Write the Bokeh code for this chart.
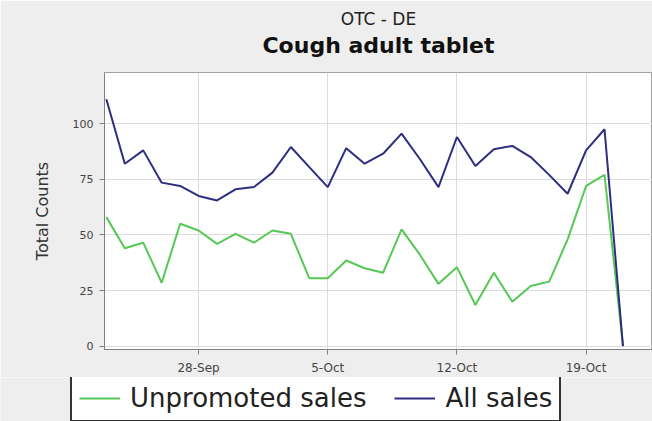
import pandas as pd
from bokeh.plotting import figure
from bokeh.layouts import column
from bokeh.models import (ColumnDataSource, FixedTicker, Legend, LegendItem,
                          Title, Range1d)
from bokeh.embed import file_html
from bokeh.resources import INLINE

# ---- data ----
dates = ["2008-09-23", "2008-09-24", "2008-09-25", "2008-09-26", "2008-09-27",
         "2008-09-28", "2008-09-29", "2008-09-30", "2008-10-01", "2008-10-02",
         "2008-10-03", "2008-10-04", "2008-10-05", "2008-10-06", "2008-10-07",
         "2008-10-08", "2008-10-09", "2008-10-10", "2008-10-11", "2008-10-12",
         "2008-10-13", "2008-10-14", "2008-10-15", "2008-10-16", "2008-10-17",
         "2008-10-18", "2008-10-19", "2008-10-20", "2008-10-21"]
all_sales = [111, 82, 88, 73.5, 72, 67.5, 65.5, 70.5, 71.5, 78,
             89.5, 80.5, 71.5, 89, 82, 86.5, 95.5, 84, 71.5, 94,
             81, 88.5, 90, 85, 77, 68.5, 88, 97.5, 0]
unpromoted_sales = [58, 44, 46.5, 28.5, 55, 52, 46, 50.5, 46.5, 52,
                    50.5, 30.5, 30.5, 38.5, 35, 33, 52.5, 41, 28, 35.5,
                    18.5, 33, 20, 27, 29, 48, 72, 77, 0]
x_tick_dates = ["2008-09-28", "2008-10-05", "2008-10-12", "2008-10-19"]
x_tick_labels = ["28-Sep", "5-Oct", "12-Oct", "19-Oct"]
y_ticks = [0, 25, 50, 75, 100]
series_names = ["Unpromoted sales", "All sales"]
title_top = "OTC - DE"
title_main = "Cough adult tablet"
y_label = "Total Counts"

FONT = "DejaVu Sans"
GREEN = "#55c855"
BLUE = "#2e2e80"
BG = "#eeeeee"

x = pd.to_datetime(dates)
src = ColumnDataSource(dict(x=x, total=all_sales, unpromoted=unpromoted_sales))

day_ms = 86400000.0
x0 = pd.Timestamp(dates[0]).value / 1e6
x_start = x0 - 0.1 * day_ms
x_end = x0 + 29.6 * day_ms

p = figure(width=652, height=377, x_axis_type="datetime",
           output_backend="svg", toolbar_location=None,
           x_range=Range1d(x_start, x_end), y_range=Range1d(-1.5, 123),
           min_border_left=104, min_border_right=0, min_border_bottom=28,
           min_border_top=72)
p.frame_align = False

p.background_fill_color = "white"
p.border_fill_color = BG
p.outline_line_color = "#a0a0a0"

# titles: p.title is the outer one, the added Title sits next to the plot
p.title.text = title_top
p.title.align = "center"
p.title.text_font = FONT
p.title.text_font_size = "17px"
p.title.text_font_style = "normal"
p.title.text_color = "#222222"
p.title.text_line_height = 1.8
p.title.standoff = -25
p.add_layout(Title(text=title_main, align="center", text_font=FONT,
                   text_font_size="22px", text_font_style="bold",
                   text_color="#111111", standoff=29),
             "above")

# lines
r_unp = p.line("x", "unpromoted", source=src, line_color=GREEN, line_width=2)
r_all = p.line("x", "total", source=src, line_color=BLUE, line_width=2)

# axes
tick_ms = [int(pd.Timestamp(d).value // 10**6) for d in x_tick_dates]
p.xaxis.ticker = FixedTicker(ticks=tick_ms)
p.xaxis.major_label_overrides = {t: l for t, l in zip(tick_ms, x_tick_labels)}
p.yaxis.ticker = FixedTicker(ticks=y_ticks)
p.yaxis.axis_label = y_label

for ax in (p.xaxis, p.yaxis):
    ax.axis_line_color = "#808080"
    ax.major_tick_line_color = "#808080"
    ax.minor_tick_line_color = None
    ax.major_tick_in = 0
    ax.major_tick_out = 5
    ax.major_label_text_font = FONT
    ax.major_label_text_color = "#444444"
    ax.major_label_standoff = 6
p.xaxis.major_label_text_font_size = "12px"
p.yaxis.major_label_text_font_size = "11px"

p.yaxis.axis_label_text_font = FONT
p.yaxis.axis_label_text_font_size = "16px"
p.yaxis.axis_label_text_font_style = "normal"
p.yaxis.axis_label_text_color = "#333333"
p.yaxis.axis_label_standoff = 18

p.xgrid.grid_line_color = "#dcdcdc"
p.ygrid.grid_line_color = "#dcdcdc"

# legend strip under the chart (its lines have no points; they only lend
# their styles to the legend glyphs)
q = figure(width=652, height=44, output_backend="svg", toolbar_location=None,
           min_border=0, x_range=Range1d(0, 1), y_range=Range1d(0, 1))
q.frame_align = False
q.axis.visible = False
q.grid.visible = False
q.outline_line_color = None
q.background_fill_color = BG
q.border_fill_color = BG
nan = float("nan")
k_unp = q.line(x=[nan], y=[nan], line_color=GREEN, line_width=2)
k_all = q.line(x=[nan], y=[nan], line_color=BLUE, line_width=2)

legend = Legend(items=[LegendItem(label=series_names[0], renderers=[k_unp]),
                       LegendItem(label=series_names[1], renderers=[k_all])],
                orientation="horizontal", location=(70, -1),
                label_text_font=FONT, label_text_font_size="26px",
                label_text_color="#222222", glyph_width=41, glyph_height=30,
                label_height=30, label_standoff=10, spacing=28, padding=7,
                margin=0, border_line_color="#333333", border_line_width=2,
                border_line_alpha=1.0,
                background_fill_color="white", background_fill_alpha=1)
q.add_layout(legend, "center")

open("out.html", "w").write(file_html(column(p, q, spacing=0), INLINE))
